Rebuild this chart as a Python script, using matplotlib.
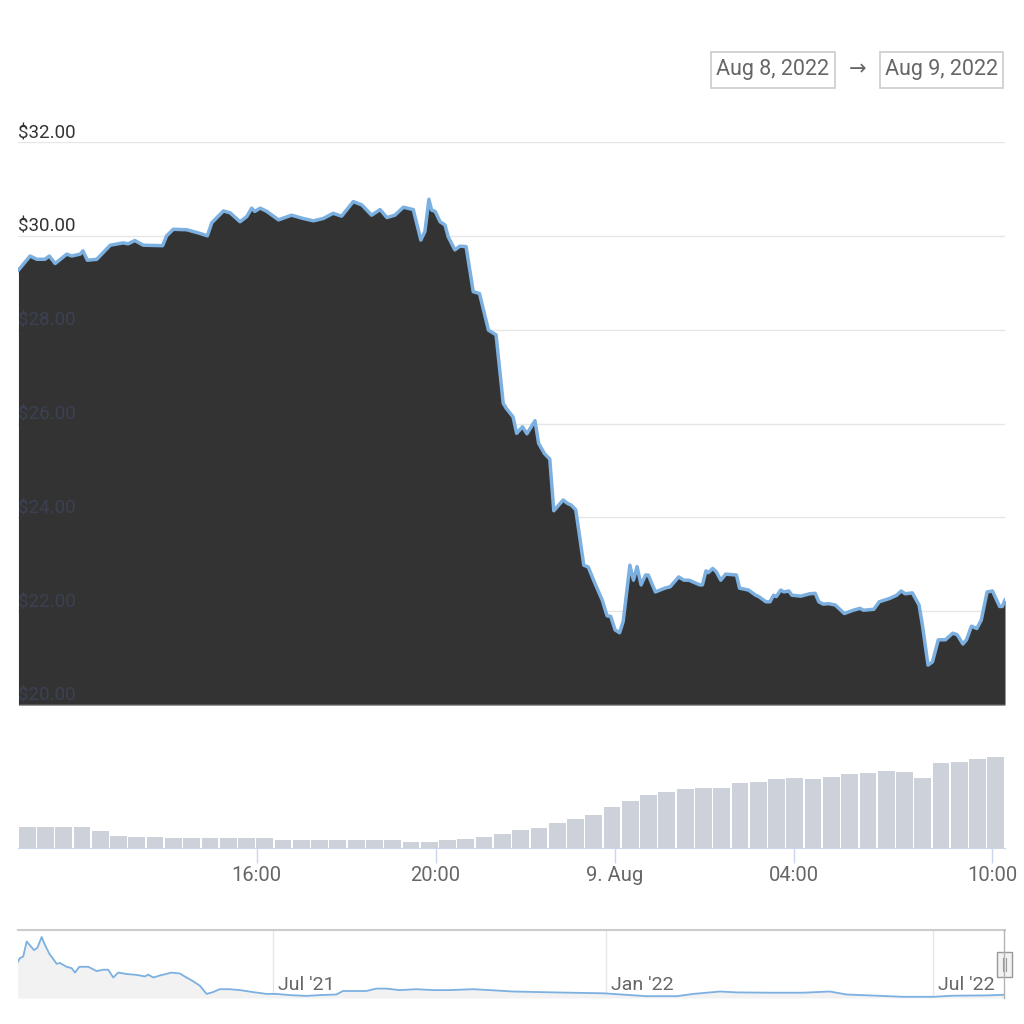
import numpy as np
import pandas as pd
import matplotlib
matplotlib.use("Agg")
import matplotlib.pyplot as plt
from matplotlib.patches import Rectangle
from matplotlib.lines import Line2D
import matplotlib.dates as mdates

plt.rcParams['font.family'] = ['Roboto', 'DejaVu Sans']

# price, hours on the (ordinal) intraday axis, 8-9 Aug 2022
price_t = [10.68, 10.94, 11.09, 11.27, 11.37, 11.50, 11.76, 11.87, 12.06, 12.12,
           12.22, 12.43, 12.73, 13.02, 13.13, 13.28, 13.47, 13.90, 13.99, 14.14,
           14.44, 14.74, 14.90, 15.00, 15.26, 15.41, 15.63, 15.78, 15.89, 15.96,
           16.08, 16.23, 16.49, 16.78, 17.04, 17.27, 17.49, 17.71, 17.90, 18.16,
           18.35, 18.57, 18.76, 18.91, 19.09, 19.28, 19.50, 19.67, 19.76, 19.85,
           19.91, 19.99, 20.10, 20.21, 20.28, 20.43, 20.54, 20.68, 20.84, 20.98,
           21.18, 21.35, 21.51, 21.58, 21.73, 21.81, 21.94, 22.04, 22.22, 22.30,
           22.43, 22.55, 22.64, 22.85, 22.94, 23.03, 23.13, 23.31, 23.41, 23.56,
           23.72, 23.83, 23.91, 24.01, 24.11, 24.19, 24.34, 24.42, 24.50, 24.59,
           24.69, 24.75, 24.91, 25.12, 25.24, 25.43, 25.55, 25.66, 25.90, 25.96,
           26.04, 26.09, 26.19, 26.27, 26.37, 26.48, 26.72, 26.79, 26.99, 27.15,
           27.22, 27.38, 27.47, 27.55, 27.61, 27.71, 27.78, 27.89, 27.96, 28.16,
           28.35, 28.48, 28.56, 28.66, 28.78, 28.93, 29.13, 29.33, 29.48, 29.56,
           29.79, 29.91, 30.14, 30.30, 30.40, 30.49, 30.65, 30.80, 30.88, 31.00,
           31.10, 31.23, 31.39, 31.55, 31.65, 31.78, 31.86, 31.97, 32.09, 32.19,
           32.32, 32.44, 32.60, 32.66, 32.72]
price = [29.27, 29.57, 29.50, 29.50, 29.57, 29.41, 29.61, 29.57, 29.61, 29.68,
         29.48, 29.50, 29.80, 29.85, 29.83, 29.90, 29.80, 29.79, 30.00, 30.14,
         30.13, 30.05, 30.00, 30.28, 30.53, 30.49, 30.30, 30.41, 30.59, 30.52,
         30.59, 30.52, 30.34, 30.44, 30.37, 30.32, 30.37, 30.48, 30.42, 30.73,
         30.66, 30.44, 30.56, 30.39, 30.44, 30.61, 30.56, 29.91, 30.09, 30.78,
         30.55, 30.52, 30.30, 30.23, 29.98, 29.70, 29.78, 29.77, 28.81, 28.77,
         27.99, 27.89, 26.43, 26.32, 26.14, 25.79, 25.93, 25.78, 26.06, 25.58,
         25.36, 25.24, 24.14, 24.37, 24.30, 24.26, 24.16, 22.98, 22.94, 22.59,
         22.24, 21.90, 21.89, 21.60, 21.54, 21.78, 22.98, 22.66, 22.95, 22.56,
         22.77, 22.77, 22.41, 22.49, 22.52, 22.73, 22.66, 22.66, 22.56, 22.56,
         22.86, 22.82, 22.91, 22.84, 22.66, 22.79, 22.77, 22.49, 22.45, 22.34,
         22.31, 22.20, 22.20, 22.34, 22.31, 22.45, 22.41, 22.43, 22.34, 22.32,
         22.37, 22.38, 22.20, 22.15, 22.16, 22.13, 21.95, 22.02, 22.06, 22.02,
         22.04, 22.20, 22.27, 22.34, 22.43, 22.37, 22.39, 22.13, 21.67, 20.85,
         20.92, 21.39, 21.39, 21.53, 21.50, 21.30, 21.39, 21.68, 21.63, 21.81,
         22.41, 22.43, 22.10, 22.10, 22.24]

# volume bars (relative heights), one per time bin
volume = [21, 21, 21, 21, 17, 12.5, 11.3, 11, 10.3, 10.3,
          10.3, 10.3, 10.3, 10.3, 8, 8, 8, 8, 8, 8,
          8, 6, 6.5, 8, 8.7, 11.3, 13.7, 18, 20.3, 25.3,
          29, 33, 41, 47, 53, 56, 58.7, 60.3, 60, 65.3,
          66, 68.7, 70.3, 69, 71, 73.7, 75.3, 77, 76, 70,
          84.7, 86, 88.7, 91.3]

x_start, x_end = 10.67, 32.72
x_ticks = [16, 20, 24, 28, 32.44]
x_tick_labels = ['16:00', '20:00', '9. Aug', '04:00', '10:00']
y_ticks = [20, 22, 24, 26, 28, 30, 32]

# navigator: full history (days since start date, relative level)
nav_start = pd.Timestamp('2021-02-09')
nav_days = [0, 1.8, 3.6, 5.5, 7.7, 9.6, 11.4, 13.8, 15.6, 18, 22.1, 23.9, 27.6,
            30.4, 32.2, 34.6, 39.6, 44.2, 47.8, 50.6, 53.4, 56.1, 60.8, 66.3,
            70.9, 72.7, 75.5, 79.2, 85.6, 90.2, 93.9, 97.6, 101.3, 105, 108.6,
            112.3, 117.8, 123.4, 130.7, 138.1, 143.6, 151, 160.2, 167.6, 176.8,
            180.4, 193.4, 198.9, 204.4, 211.8, 221, 230.2, 239.4, 252.3, 261.5,
            274.4, 297, 324.5, 348.5, 365, 374.3, 389, 398.2, 416.6, 435, 449.7,
            458.9, 471.8, 490.2, 506.8, 517.9, 536.3, 545.7]
nav_level = [34.2, 40, 41.5, 56.6, 51.7, 47.9, 50.2, 61, 53.1, 44.4, 34.2, 35.0,
             31.2, 29.8, 25.4, 31.2, 31.2, 26.9, 28.3, 28.3, 20.5, 25.4, 24.0,
             23.1, 21.6, 23.4, 20.5, 22.5, 25.4, 24.5, 20.5, 16.7, 12.3, 4.1,
             5.9, 8.8, 8.8, 7.9, 5.9, 4.1, 4.1, 2.9, 2.1, 2.9, 3.5, 7.0, 7.0, 9.4,
             9.4, 7.9, 8.8, 7.9, 7.9, 8.8, 7.9, 6.5, 5.6, 4.7, 1.8, 1.8, 4.1, 6.5,
             5.6, 5.3, 5.3, 6.5, 3.5, 2.6, 1.2, 1.2, 2.3, 2.6, 3.2]
nav_ticks = ['2021-07-01', '2022-01-01', '2022-07-01']
nav_tick_labels = ["Jul '21", "Jan '22", "Jul '22"]

date_from, date_to = 'Aug 8, 2022', 'Aug 9, 2022'

W = H = 1024.0
def fx(px):
    return px / W
def fy(py):
    return 1 - py / H

fig = plt.figure(figsize=(10.24, 10.24), dpi=100)
fig.patch.set_facecolor('white')

# ---- main price chart
ax = fig.add_axes([fx(18), fy(705), 987 / W, 563 / H])
ax.set_xlim(x_start, x_end)
ax.set_ylim(20, 32)
for v in y_ticks:
    ax.axhline(v, color='#e6e6e6', lw=1, zorder=0)
ax.fill_between(price_t, price, 20, color='#333333', lw=0, zorder=1)
ax.plot(price_t, price, color='#7cb0e0', lw=2.5, zorder=2,
        solid_joinstyle='round')
ax.axhline(20, color='#d0d0d0', lw=1, zorder=3)
for v in y_ticks:
    under = v < price[0]
    ax.text(0, v, f'${v:.2f}', transform=ax.get_yaxis_transform(),
            ha='left', va='bottom', fontsize=13.5,
            color='#3b4152' if under else '#333333', zorder=4)
ax.axis('off')

# ---- volume
axv = fig.add_axes([fx(18), fy(848), 987 / W, 140 / H])
n = len(volume)
step = (x_end - x_start) / n
vol_x = np.linspace(x_start + step / 2, x_end - step / 2, n)
axv.bar(vol_x, volume, width=step * 0.92, color='#cdd1da', lw=0)
axv.set_xlim(x_start, x_end)
axv.set_ylim(0, 140)
for s in ['top', 'right', 'left']:
    axv.spines[s].set_visible(False)
axv.spines['bottom'].set_color('#ccd6eb')
axv.set_yticks([])
axv.set_xticks(x_ticks)
axv.set_xticklabels(x_tick_labels)
axv.tick_params(axis='x', length=11, width=1, color='#ccd6eb', pad=2,
                labelsize=14.5, labelcolor='#666666')

# ---- navigator
axn = fig.add_axes([fx(18), fy(998), 987 / W, 68 / H])
nav_x = nav_start + pd.to_timedelta(nav_days, unit='D')
axn.fill_between(nav_x, nav_level, 0, color='#f2f2f2', lw=0)
axn.plot(nav_x, nav_level, color='#7cb0e0', lw=1.3)
axn.set_xlim(nav_start + pd.Timedelta(days=0.7), nav_start + pd.Timedelta(days=546.6))
axn.set_ylim(0, 68)
for d, lab in zip(nav_ticks, nav_tick_labels):
    xd = pd.Timestamp(d)
    axn.axvline(xd, color='#e6e6e6', lw=1, zorder=0)
    axn.annotate(lab, (mdates.date2num(xd), 0), xytext=(5, 4),
                 textcoords='offset pixels', ha='left', va='bottom',
                 fontsize=14, color='#666666')
for s in ['right', 'left', 'bottom']:
    axn.spines[s].set_visible(False)
axn.spines['top'].set_color('#cccccc')
axn.spines['top'].set_linewidth(1.5)
axn.set_xticks([])
axn.set_yticks([])

# navigator right edge + handle
fig.add_artist(Line2D([fx(1004), fx(1004)], [fy(930), fy(998)],
                      color='#b3b3b3', lw=1, transform=fig.transFigure))
fig.add_artist(Rectangle((fx(997), fy(977)), 15 / W, 25 / H,
                         facecolor='#f2f2f2', edgecolor='#999999', lw=1,
                         transform=fig.transFigure))
for hx in (1003, 1006):
    fig.add_artist(Line2D([fx(hx), fx(hx)], [fy(958), fy(971)],
                          color='#999999', lw=0.8, transform=fig.transFigure))

# ---- date range boxes
for x0, x1, label in [(711, 835, date_from), (880, 1003, date_to)]:
    fig.add_artist(Rectangle((fx(x0), fy(88)), (x1 - x0) / W, 36 / H,
                             facecolor='white', edgecolor='#cccccc', lw=1.2,
                             transform=fig.transFigure))
    fig.text(fx((x0 + x1) / 2), fy(70), label, ha='center', va='center',
             fontsize=15.5, color='#666666')
fig.text(fx(858), fy(70), '→', ha='center', va='center', fontsize=15,
         color='#666666')

fig.savefig('out.png', dpi=100, facecolor='white')
